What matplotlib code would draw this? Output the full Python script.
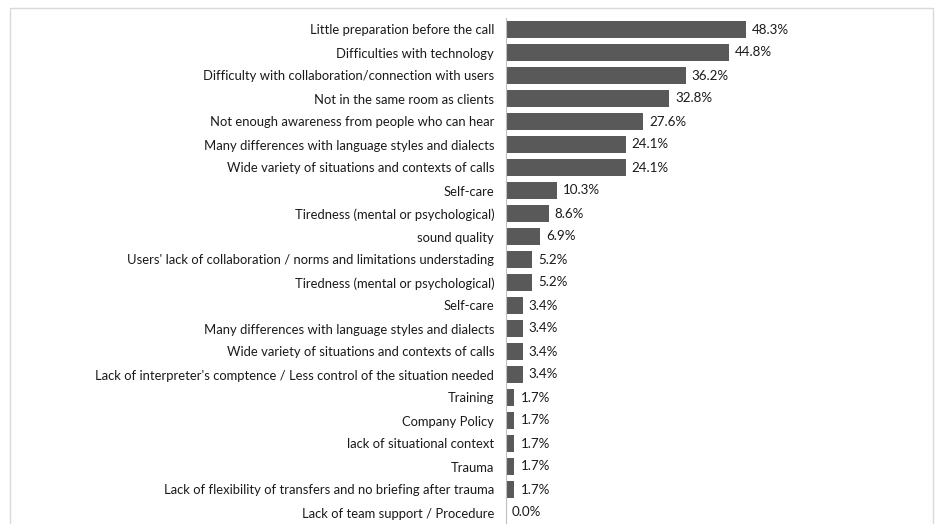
import numpy as np
import matplotlib.pyplot as plt
from matplotlib.patches import Rectangle

labels = ['Little preparation before the call',
          'Difficulties with technology',
          'Difficulty with collaboration/connection with users',
          'Not in the same room as clients',
          'Not enough awareness from people who can hear',
          'Many differences with language styles and dialects',
          'Wide variety of situations and contexts of calls',
          'Self-care',
          'Tiredness (mental or psychological)',
          'sound quality',
          "Users' lack of collaboration / norms and limitations understading",
          'Tiredness (mental or psychological)',
          'Self-care',
          'Many differences with language styles and dialects',
          'Wide variety of situations and contexts of calls',
          "Lack of interpreter's comptence / Less control of the situation needed",
          'Training',
          'Company Policy',
          'lack of situational context',
          'Trauma',
          'Lack of flexibility of transfers and no briefing after trauma',
          'Lack of team support / Procedure']
values = [48.3, 44.8, 36.2, 32.8, 27.6, 24.1, 24.1, 10.3, 8.6, 6.9, 5.2,
          5.2, 3.4, 3.4, 3.4, 3.4, 1.7, 1.7, 1.7, 1.7, 1.7, 0.0]

plt.rcParams['font.family'] = ['Lato', 'DejaVu Sans']

fig = plt.figure(figsize=(9.35, 5.24), dpi=100)
# light frame around the chart area
fig.patches.append(Rectangle((10/935, -0.05), 923/935, 1.05 - 8/524,
                             transform=fig.transFigure, fill=False,
                             edgecolor='#d9d9d9', linewidth=1))

ax = fig.add_axes([506/935, 0, 424/935, 506/524])
y = np.arange(len(values))
ax.barh(y, values, height=0.75, color='#595959')
ax.set_ylim(len(values) - 0.5, -0.5)
ax.set_xlim(0, 85.3)

for yi, v in zip(y, values):
    ax.text(v + 1.2, yi, f'{v:.1f}%', va='center', ha='left',
            fontsize=9.6, color='#1a1a1a')

ax.set_yticks(y)
ax.set_yticklabels(labels, fontsize=9.4, color='#1a1a1a')
ax.tick_params(axis='y', length=0, pad=8.5)
ax.set_xticks([])
for s in ['top', 'right', 'bottom']:
    ax.spines[s].set_visible(False)
ax.spines['left'].set_color('#bfbfbf')
ax.spines['left'].set_linewidth(0.8)

fig.savefig('out.png', dpi=100)
